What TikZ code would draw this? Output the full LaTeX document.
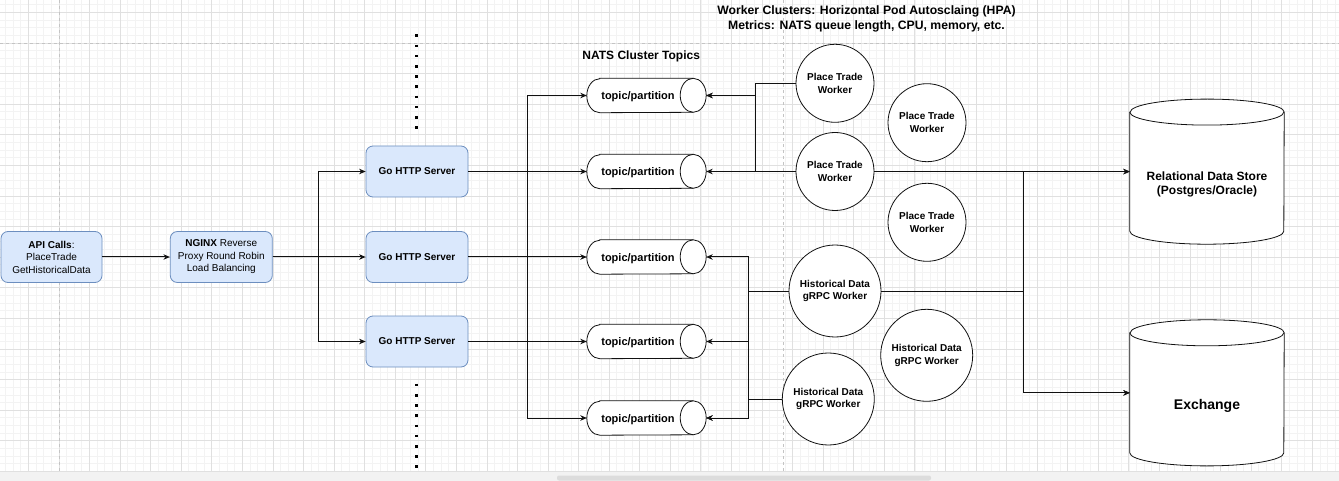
\documentclass[tikz,border=0pt]{standalone}
\usepackage{fontspec}
\setmainfont{Liberation Sans}
\usetikzlibrary{arrows.meta,calc}
\pgfdeclarelayer{gridlayer}
\pgfdeclarelayer{shapelayer}
\pgfsetlayers{gridlayer,shapelayer,main}
\definecolor{boxfill}{HTML}{DAE8FC}
\definecolor{boxline}{HTML}{6C8EBF}
\definecolor{gridminor}{HTML}{F3F3F3}
\definecolor{gridmajor}{HTML}{E0E0E0}
\definecolor{guideclr}{HTML}{C4C4C4}
\definecolor{lineclr}{HTML}{111111}
\definecolor{bandclr}{HTML}{F2F2F2}
\definecolor{scrollclr}{HTML}{DCDCDC}
\begin{document}
\begin{tikzpicture}[x=1pt,y=-1pt,
  every node/.style={font=\fontsize{10pt}{12.5pt}\selectfont},
  bluebox/.style={draw=boxline, fill=boxfill, rounded corners=7pt, minimum width=102pt, minimum height=51pt, align=center, inner sep=0pt, line width=0.8pt},
  srvbox/.style={bluebox, font=\fontsize{10pt}{12.5pt}\selectfont\bfseries},
  worker/.style={circle, draw=lineclr, fill=white, line width=0.8pt, inner sep=0pt, align=center, font=\fontsize{10pt}{12.8pt}\selectfont\bfseries},
  ptw/.style={worker, minimum size=78pt},
  hdw/.style={worker, minimum size=92pt},
  topicnode/.style={minimum width=119pt, minimum height=34pt, inner sep=0pt,
     label={[font=\fontsize{11pt}{13pt}\selectfont\bfseries, xshift=-8.5pt, yshift=-1.5pt]center:topic/partition}},
  dbnode/.style={minimum width=154pt, inner sep=0pt},
  shapeline/.style={draw=lineclr, line width=0.8pt},
  conn/.style={draw=lineclr, line width=1pt},
  arr/.style={conn, -{Stealth[length=6.5pt,width=5.5pt]}},
  guide/.style={draw=guideclr, line width=0.8pt, dash pattern=on 3pt off 3pt},
  dotcol/.style={line width=2.6pt, dash pattern=on 2.6pt off 7.6pt}
]
\useasboundingbox (0,0) rectangle (1339,481);

% ---------- background grid ----------
\begin{pgfonlayer}{gridlayer}
\fill[white] (0,0) rectangle (1339,472);
\fill[bandclr] (0,472) rectangle (1339,481);
\fill[scrollclr, rounded corners=2pt] (557,475.5) rectangle (931,480.5);
\foreach \i in {-3,...,171} \draw[gridminor, line width=0.6pt] ({28.3+7.6425*\i},0) -- ++(0,472);
\foreach \i in {-1,...,60} \draw[gridminor, line width=0.6pt] (0,{12.3+7.65*\i}) -- ++(1339,0);
\foreach \i in {0,...,42} \draw[gridmajor, line width=0.7pt] ({28.3+30.57*\i},0) -- ++(0,472);
\foreach \i in {0,...,15} \draw[gridmajor, line width=0.7pt] (0,{12.3+30.6*\i}) -- ++(1339,0);
\draw[guide] (59,0) -- (59,472);
\draw[guide] (783,0) -- (783,472);
\draw[guide] (0,43.5) -- (1339,43.5);
\end{pgfonlayer}

% ---------- titles ----------
\node[font=\fontsize{12.2pt}{15pt}\selectfont\bfseries, align=center] (title) at (866.5,18.8)
  {Worker Clusters: Horizontal Pod Autosclaing (HPA)\\Metrics: NATS queue length, CPU, memory, etc.};
\node[font=\fontsize{12pt}{14pt}\selectfont\bfseries] (natslbl) at (641.2,56.5) {NATS Cluster Topics};

% ---------- entry boxes ----------
\node[bluebox, minimum width=101pt] (api) at (51.5,257) {\textbf{API Calls}:\\PlaceTrade\\GetHistoricalData};
\node[bluebox] (ngx) at (221.3,257) {\textbf{NGINX} Reverse\\Proxy Round Robin\\Load Balancing};
\node[srvbox] (s1) at (417,171.5) {Go HTTP Server};
\node[srvbox] (s2) at (417,257) {Go HTTP Server};
\node[srvbox] (s3) at (417,341.5) {Go HTTP Server};

% dotted continuation marks
\draw[dotcol] (416.7,34.4) -- (416.7,129.5);
\draw[dotcol] (416.7,383.7) -- (416.7,468);

% ---------- topics ----------
\node[topicnode] (t1) at (646.5,95.5) {};
\node[topicnode] (t2) at (646.5,171.5) {};
\node[topicnode] (t3) at (646.5,257) {};
\node[topicnode] (t4) at (646.5,341.5) {};
\node[topicnode] (t5) at (646.5,418) {};

% ---------- workers ----------
\node[ptw] (p1) at (835,83.3) {Place Trade\\Worker};
\node[ptw] (p2) at (927,122.7) {Place Trade\\Worker};
\node[ptw] (p3) at (835,171.5) {Place Trade\\Worker};
\node[ptw] (p4) at (927,222.3) {Place Trade\\Worker};
\node[hdw] (h1) at (835,291) {Historical Data\\gRPC Worker};
\node[hdw] (h2) at (926.7,355.3) {Historical Data\\gRPC Worker};
\node[hdw] (h3) at (828.3,399) {Historical Data\\gRPC Worker};

% ---------- data stores ----------
\node[dbnode, minimum height=144.7pt,
  label={[align=center, font=\fontsize{12pt}{13.5pt}\selectfont\bfseries, yshift=-13pt]center:{Relational Data Store\\(Postgres/Oracle)}}]
  (rds) at (1207,171.65) {};
\node[dbnode, minimum height=145.7pt,
  label={[font=\fontsize{14pt}{16pt}\selectfont\bfseries, yshift=-13.5pt]center:Exchange}]
  (ex) at (1207,392.85) {};

% ---------- shapes drawn behind the texts ----------
\begin{pgfonlayer}{shapelayer}
\foreach \t in {t1,t2,t3,t4,t5} {
  \filldraw[shapeline, fill=white] ([xshift=13pt]\t.north west) -- ([xshift=-13pt]\t.north east)
     arc[start angle=90, end angle=-90, x radius=13pt, y radius=17pt]
     -- ([xshift=13pt]\t.south west)
     arc[start angle=270, end angle=90, x radius=13pt, y radius=17pt] -- cycle;
  \draw[shapeline] ([xshift=-13pt]\t.north east) arc[start angle=90, end angle=270, x radius=13pt, y radius=17pt];
}
\foreach \c in {rds,ex} {
  \filldraw[shapeline, fill=white] ([yshift=-13pt]\c.north west) -- ([yshift=13pt]\c.south west)
     arc[start angle=180, end angle=360, x radius=77pt, y radius=13pt]
     -- ([yshift=-13pt]\c.north east)
     arc[start angle=0, end angle=180, x radius=77pt, y radius=13pt] -- cycle;
  \draw[shapeline] ([yshift=-13pt]\c.north west) arc[start angle=180, end angle=360, x radius=77pt, y radius=13pt];
}
\end{pgfonlayer}

% ---------- connectors ----------
\coordinate (jn) at (318.5,257);
\coordinate (jt) at (527.3,257);
\coordinate (vh) at (748.5,0);
\coordinate (vr) at (1023.3,0);

\draw[arr] (api) -- (ngx);
\draw[arr] (ngx.east) -- (s2.west);
\draw[arr] (ngx.east) -- (jn) |- (s1.west);
\draw[arr] (ngx.east) -- (jn) |- (s3.west);

\draw[arr] (s1.east) -- (t2.west);
\draw[arr] (s2.east) -- (t3.west);
\draw[arr] (s3.east) -- (t4.west);
\draw[arr] (s2.east) -- (jt) |- (t1.west);
\draw[arr] (s2.east) -- (jt) |- (t5.west);

\draw[arr] (p1.west) -- ++(-40,0) |- (t1.east);
\draw[arr] (p3.west) -- ++(-40,0) |- (t1.east);
\draw[arr] (p3.west) -- (t2.east);

\draw[arr] (h1.west) -- (h1.west -| vh) |- (t3.east);
\draw[arr] (h1.west) -- (h1.west -| vh) |- (t4.east);
\draw[arr] (h1.west) -- (h1.west -| vh) |- (t5.east);
\draw[arr] (h3.west) -- (h3.west -| vh) |- (t5.east);

\draw[arr] (p3.east) -- (p3.east -| rds.west);
\draw[arr] (p3.east) -- (p3.east -| vr) |- (ex.west);
\draw[arr] (h1.east) -- (h1.east -| vr) |- (rds.west);
\draw[arr] (h1.east) -- (h1.east -| vr) |- (ex.west);
\end{tikzpicture}
\end{document}
